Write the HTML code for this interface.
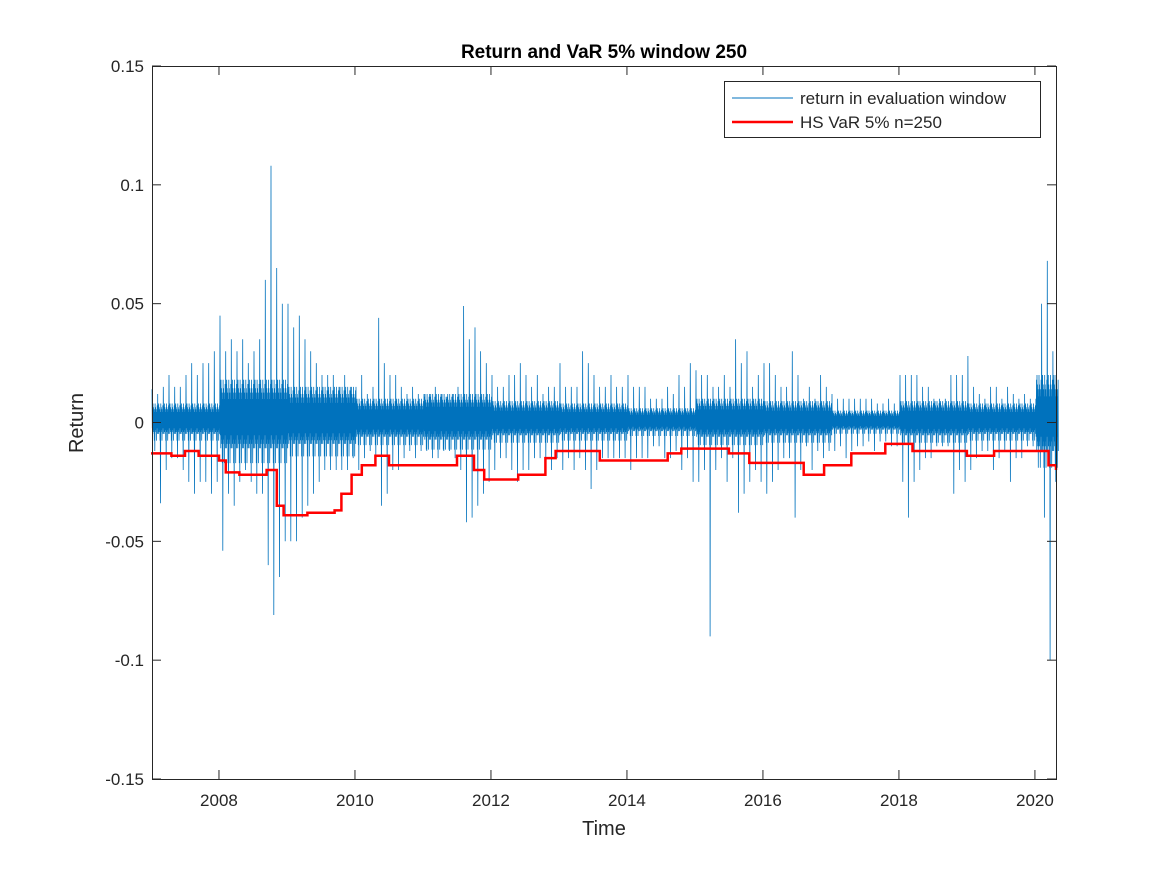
<!DOCTYPE html>
<html><head><meta charset="utf-8"><style>
body{margin:0;background:#fff}
svg text{font-family:"Liberation Sans",sans-serif;fill:#262626}
</style></head><body>
<svg id="chart" width="1167" height="875" xmlns="http://www.w3.org/2000/svg">
<rect width="1167" height="875" fill="#fff"/>
<g id="plot"></g>
<g id="axes"></g>
<text x="604" y="58" text-anchor="middle" font-size="19" font-weight="bold" style="fill:#000">Return and VaR 5% window 250</text>
<text x="604" y="835" text-anchor="middle" font-size="20">Time</text>
<text transform="translate(83,423) rotate(-90)" text-anchor="middle" font-size="20">Return</text>
<g>
<rect x="724.5" y="81.5" width="316" height="56" fill="#fff" stroke="#262626" stroke-width="1"/>
<line x1="732" y1="98" x2="793" y2="98" stroke="#0072BD" stroke-width="1"/>
<text x="800" y="104" font-size="17">return in evaluation window</text>
<line x1="732" y1="122" x2="793" y2="122" stroke="#FF0000" stroke-width="2.5"/>
<text x="800" y="128" font-size="17">HS VaR 5% n=250</text>
</g>
</svg>
<script>
const retHi=[.014,.012,.015,.02,.015,.015,.02,.025,.02,.025,.025,.03,
.045,.03,.035,.03,.035,.025,.03,.035,.06,.108,.065,.05,
.05,.04,.045,.035,.03,.025,.02,.02,.02,.015,.02,.015,
.015,.02,.012,.015,.044,.025,.02,.02,.015,.012,.015,.012,
.012,.012,.015,.012,.01,.012,.015,.049,.035,.04,.03,.025,
.02,.015,.015,.02,.02,.025,.02,.015,.02,.012,.015,.015,
.025,.015,.015,.015,.03,.025,.02,.015,.015,.02,.015,.015,
.02,.015,.015,.015,.01,.01,.01,.015,.012,.02,.015,.025,
.022,.02,.02,.015,.015,.02,.015,.035,.025,.03,.015,.02,
.025,.025,.02,.015,.015,.03,.02,.01,.015,.01,.02,.015,
.012,.01,.01,.01,.01,.01,.01,.01,.008,.008,.01,.008,
.02,.02,.02,.02,.015,.015,.01,.01,.01,.02,.02,.02,
.028,.015,.012,.01,.015,.015,.01,.015,.012,.01,.012,.01,
.01,.05,.068,.03];
const retLo=[-.012,-.034,-.02,-.015,-.015,-.02,-.025,-.03,-.025,-.025,-.03,-.025,
-.054,-.03,-.035,-.025,-.02,-.025,-.03,-.03,-.06,-.081,-.065,-.05,
-.05,-.05,-.04,-.035,-.03,-.025,-.02,-.02,-.02,-.02,-.02,-.015,
-.02,-.015,-.012,-.015,-.035,-.03,-.02,-.02,-.015,-.012,-.015,-.012,
-.012,-.015,-.015,-.012,-.012,-.015,-.02,-.042,-.04,-.035,-.03,-.025,
-.02,-.015,-.015,-.02,-.025,-.02,-.02,-.015,-.015,-.015,-.02,-.015,
-.02,-.015,-.02,-.015,-.02,-.028,-.02,-.015,-.015,-.015,-.015,-.015,
-.02,-.015,-.015,-.015,-.01,-.01,-.015,-.015,-.012,-.02,-.015,-.025,
-.025,-.02,-.09,-.02,-.015,-.025,-.015,-.038,-.03,-.025,-.02,-.025,
-.03,-.025,-.02,-.015,-.015,-.04,-.02,-.01,-.02,-.012,-.015,-.012,
-.012,-.01,-.015,-.012,-.01,-.01,-.008,-.012,-.008,-.008,-.01,-.01,
-.025,-.04,-.025,-.02,-.015,-.015,-.01,-.01,-.01,-.03,-.02,-.025,
-.02,-.015,-.012,-.012,-.02,-.015,-.012,-.025,-.015,-.015,-.01,-.01,
-.01,-.04,-.1,-.025];
// typical (core) daily return amplitude per year 2007..2020
const coreAmp=[.008,.018,.015,.01,.012,.009,.008,.006,.01,.009,.005,.009,.008,.02];
const varT=[2007.0,2007.3,2007.5,2007.7,2008.0,2008.1,2008.3,2008.7,2008.85,2008.95,2009.3,2009.7,2009.8,2009.95,2010.1,2010.3,2010.5,2011.5,2011.75,2011.9,2012.4,2012.8,2012.95,2013.6,2014.6,2014.8,2015.5,2015.8,2016.6,2016.9,2017.3,2017.8,2018.2,2019.0,2019.4,2020.1,2020.2,2020.31];
const varV=[-0.013,-0.014,-0.012,-0.014,-0.016,-0.021,-0.022,-0.020,-0.035,-0.039,-0.038,-0.037,-0.030,-0.022,-0.018,-0.014,-0.018,-0.014,-0.020,-0.024,-0.022,-0.015,-0.012,-0.016,-0.013,-0.011,-0.013,-0.017,-0.022,-0.018,-0.013,-0.009,-0.012,-0.014,-0.012,-0.012,-0.018,-0.020];
const xTicks=[2008,2010,2012,2014,2016,2018,2020];
const yTicks=[-0.15,-0.1,-0.05,0,0.05,0.1,0.15];
const yTickLabels=["-0.15","-0.1","-0.05","0","0.05","0.1","0.15"];

const L=152,R=1056,T=66,B=779,X0=2007.015,X1=2020.31,Y0=-0.15,Y1=0.15;
const sx=v=>L+(v-X0)/(X1-X0)*(R-L);
const sy=v=>B-(v-Y0)/(Y1-Y0)*(B-T);
const NS="http://www.w3.org/2000/svg";
const plot=document.getElementById('plot'),axes=document.getElementById('axes');
function mk(tag,at,parent){const e=document.createElementNS(NS,tag);for(const k in at)e.setAttribute(k,at[k]);parent.appendChild(e);return e;}

// returns: per month, extreme high/low plus core oscillation
const frac=[0.3,0.9,0.6,1.0,0.5,0.8,0.4,0.7,0.95,0.55];
let pts=[];
for(let i=0;i<retHi.length;i++){
  const t0=X0+i/12, c=coreAmp[Math.floor(i/12)];
  const seq=[];
  seq.push(retHi[i]);
  for(let k=0;k<frac.length;k++)seq.push((k%2?1:-1)*c*frac[k]);
  seq.push(retLo[i]);
  for(let k=0;k<frac.length;k++)seq.push((k%2?-1:1)*c*frac[(k+3)%frac.length]);
  seq.forEach((v,k)=>pts.push(sx(t0+k/seq.length/12).toFixed(1)+','+sy(v).toFixed(1)));
}
const rl=mk('polyline',{points:pts.join(' '),fill:'none',stroke:'#0072BD','stroke-width':0.8},plot);


// VaR step
let vp=[];
for(let i=0;i<varT.length;i++){
  if(i>0)vp.push(sx(varT[i]).toFixed(1)+','+sy(varV[i-1]).toFixed(1));
  vp.push(sx(varT[i]).toFixed(1)+','+sy(varV[i]).toFixed(1));
}
const vl=mk('polyline',{points:vp.join(' '),fill:'none',stroke:'#FF0000','stroke-width':2.5},plot);



const box=mk('rect',{x:L+.5,y:T+.5,width:R-L,height:B-T,fill:'none',stroke:'#262626','stroke-width':1},axes);


xTicks.forEach(v=>{
  const x=sx(v);
  mk('line',{x1:x,y1:B,x2:x,y2:B-9,stroke:'#262626'},axes);
  mk('line',{x1:x,y1:T,x2:x,y2:T+9,stroke:'#262626'},axes);
  const t=mk('text',{x:x,y:B+27,'text-anchor':'middle','font-size':17},axes);
  
  
  t.textContent=v;
});
yTicks.forEach((v,i)=>{
  const y=sy(v);
  mk('line',{x1:L,y1:y,x2:L+9,y2:y,stroke:'#262626'},axes);
  mk('line',{x1:R,y1:y,x2:R-9,y2:y,stroke:'#262626'},axes);
  const t=mk('text',{x:L-8,y:y+6,'text-anchor':'end','font-size':17},axes);
  
  
  t.textContent=yTickLabels[i];
});
</script>
</body></html>
